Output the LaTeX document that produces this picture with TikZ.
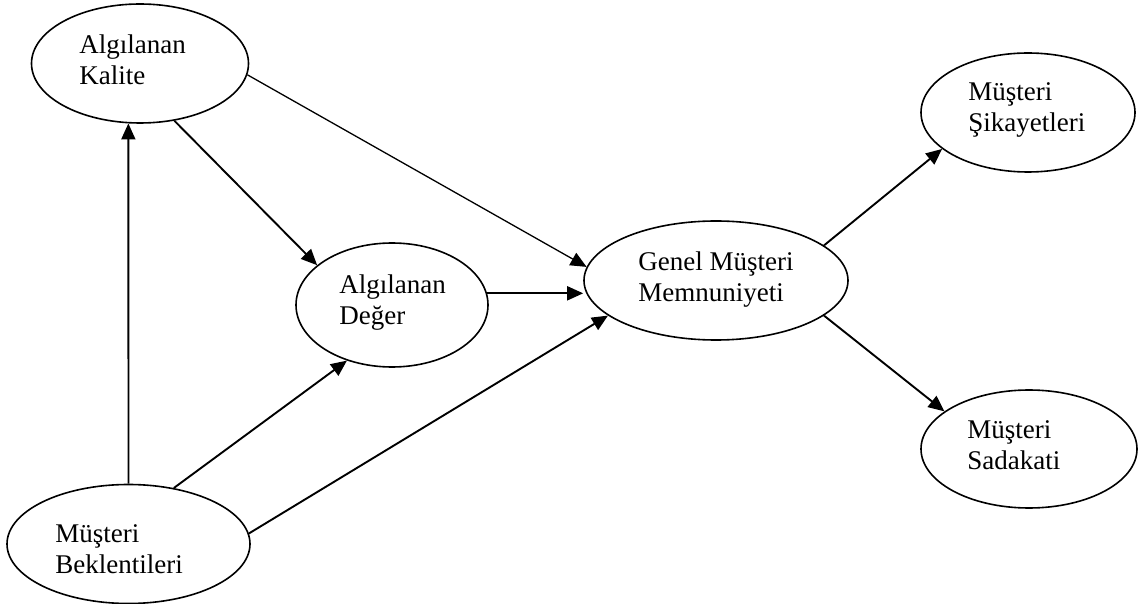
\documentclass[tikz,border=0pt]{standalone}
\usepackage{fontspec}
\setmainfont{Liberation Serif}
\usetikzlibrary{shapes.geometric,arrows.meta}

\begin{document}
\begin{tikzpicture}[x=0.5pt, y=-0.5pt,
  bubble/.style={draw, ellipse, line width=0.8pt, inner sep=0pt},
  lbl/.style={anchor=base west, align=left, inner sep=0pt,
              font=\fontsize{13.5pt}{15.5pt}\selectfont},
  arr/.style={-{Triangle[length=8pt,width=7pt]}, line width=0.95pt},
  thinarr/.style={arr, line width=0.65pt}]

\useasboundingbox (0,0) rectangle (1141,604);

% construct ellipses
\node[bubble, minimum width=108.5pt, minimum height=59.5pt] (kal) at (140,63.5) {};
\node[bubble, minimum width=121.5pt, minimum height=59.5pt] (bek) at (128.5,544) {};
\node[bubble, minimum width=96pt,    minimum height=62pt]   (der) at (392,305) {};
\node[bubble, minimum width=132pt,   minimum height=59.5pt] (gen) at (716,280.5) {};
\node[bubble, minimum width=107pt,   minimum height=59.5pt] (sik) at (1028,112.5) {};
\node[bubble, minimum width=108pt,   minimum height=59pt]   (sad) at (1029,449) {};

% labels (anchored at the baseline of the last line)
\node[lbl] (kal-t) at (79,85)   {Algılanan\\Kalite};
\node[lbl] (der-t) at (339,325) {Algılanan\\Değer};
\node[lbl] (gen-t) at (638,302) {Genel Müşteri\\Memnuniyeti};
\node[lbl] (sik-t) at (968,132) {Müşteri\\Şikayetleri};
\node[lbl] (sad-t) at (967,469) {Müşteri\\Sadakati};
\node[lbl] (bek-t) at (55,573)  {Müşteri\\Beklentileri};

% paths between constructs
\draw[arr] (bek.north) -- (kal.-101.4);
\draw[arr] (kal.-59.5) -- (der.152.2);
\draw[thinarr] (kal.-6.7) -- (gen.174.6);
\draw[arr] (der.7.3) -- (der.7.3 -| gen.west);
\draw[arr] (bek.51.8) -- (der.231.3);
\draw[arr] (bek.5.7) -- (gen.198.7);
\draw[arr] (gen.18.8) -- (sik.203.2);
\draw[arr] (gen.-18.8) -- (sad.156.7);
\end{tikzpicture}
\end{document}
